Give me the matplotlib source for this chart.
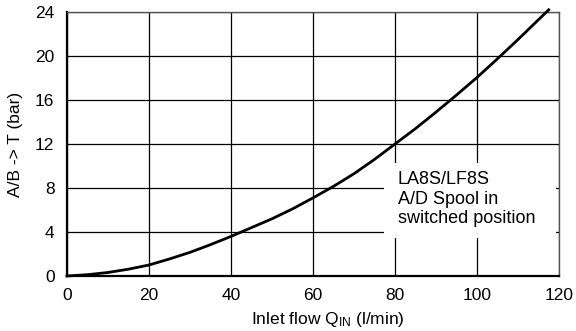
import matplotlib
matplotlib.use("Agg")
import matplotlib.pyplot as plt
from matplotlib.patches import Rectangle

plt.rcParams["font.family"] = ["Liberation Sans", "DejaVu Sans"]
plt.rcParams["mathtext.default"] = "regular"

# values
flow = [0, 5, 10, 15, 20, 25, 30, 35, 40, 45, 50, 55, 60, 65, 70, 75, 80,
        85, 90, 95, 100, 105, 110, 115, 117.5]
pressure = [0, 0.12, 0.32, 0.62, 1.0, 1.55, 2.15, 2.85, 3.6, 4.4, 5.2, 6.1, 7.1,
            8.15, 9.3, 10.6, 12.0, 13.4, 14.9, 16.45, 18.05, 19.75, 21.5, 23.3, 24.2]

xticks = [0, 20, 40, 60, 80, 100, 120]
yticks = [0, 4, 8, 12, 16, 20, 24]
note = "LA8S/LF8S\nA/D Spool in\nswitched position"

fig = plt.figure(figsize=(5.76, 3.31), dpi=100)
ax = fig.add_axes([67 / 576, 1 - 276 / 331, (559 - 67) / 576, (276 - 12) / 331])

ax.set_xlim(0, 120)
ax.set_ylim(0, 24)
ax.set_xticks(xticks)
ax.set_yticks(yticks)
ax.grid(True, color="black", linewidth=0.9)
ax.tick_params(length=0, labelsize=12.5)
ax.tick_params(axis="y", pad=9)
ax.tick_params(axis="x", pad=9)

# white box behind the note hides the grid
ax.add_patch(Rectangle((77.3, 3.5), 42.0, 6.8, facecolor="white",
                       edgecolor="none", zorder=2))
ax.text(80.7, 9.55, note, fontsize=13, va="top", ha="left",
        linespacing=1.2, zorder=3)

ax.plot(flow, pressure, color="black", linewidth=2.0, zorder=4, clip_on=False,
        solid_joinstyle="round")

for side in ["left", "bottom"]:
    ax.spines[side].set_linewidth(1.6)
for side in ["top", "right"]:
    ax.spines[side].set_linewidth(1.0)
    ax.spines[side].set_color("#555555")

ax.set_ylabel("A/B -> T (bar)", fontsize=12.5)
ax.set_xlabel("Inlet flow $Q_{IN}$ (l/min)", fontsize=12.5)
ax.yaxis.set_label_coords(-0.09, 0.5)
ax.xaxis.set_label_coords(0.53, -0.13)

fig.savefig("out.png", dpi=100)
